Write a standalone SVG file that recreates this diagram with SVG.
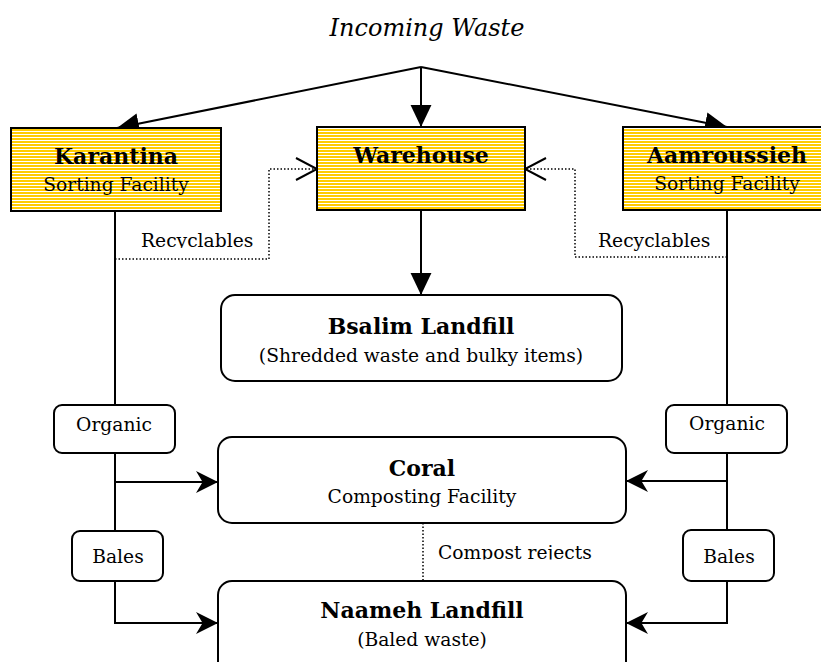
<svg xmlns="http://www.w3.org/2000/svg" width="821" height="662" viewBox="0 0 821 662">
<defs>
  <pattern id="stripes" patternUnits="userSpaceOnUse" x="0" y="0" width="10" height="3">
    <rect width="10" height="3" fill="#FFCC00"/>
    <rect y="2" width="10" height="1" fill="#FFFFFF"/>
  </pattern>
  <marker id="tri" markerUnits="userSpaceOnUse" markerWidth="22" markerHeight="22" viewBox="0 0 20 20" refX="20" refY="10" orient="auto">
    <path d="M0,0.5 L20,10 L0,19.5 z" fill="#000"/>
  </marker>
  <marker id="stealth" markerUnits="userSpaceOnUse" markerWidth="22" markerHeight="22" viewBox="0 0 20 20" refX="20" refY="10" orient="auto">
    <path d="M0,0 L20,10 L0,20 L6,10 z" fill="#000"/>
  </marker>
  <clipPath id="clipRecL"><rect x="120" y="220" width="150" height="28"/></clipPath>
  <clipPath id="clipRej"><rect x="430" y="530" width="200" height="29.5"/></clipPath>
</defs>
<style>
  text { font-family: "DejaVu Serif", "Liberation Serif", serif; fill: #000; }
  .title { font-size: 24px; font-style: italic; }
  .head { font-size: 22px; font-weight: bold; }
  .sub { font-size: 18.7px; }
  .lbl { font-size: 18.7px; }
  .ybox { fill: url(#stripes); stroke: #000; stroke-width: 2; }
  .rbox { fill: #fff; stroke: #000; stroke-width: 2; }
  .line { fill: none; stroke: #000; stroke-width: 2; }
  .dot { fill: none; stroke: #000; stroke-width: 1.5; stroke-dasharray: 1.5 2; }
</style>

<g id="incoming">
  <text class="title" x="427" y="36" text-anchor="middle">Incoming Waste</text>
</g>

<g id="connectors">
  <line class="line" x1="421" y1="67" x2="117" y2="128" marker-end="url(#tri)"/>
  <line class="line" x1="421" y1="67" x2="421" y2="127" marker-end="url(#tri)"/>
  <line class="line" x1="421" y1="67" x2="727" y2="127" marker-end="url(#tri)"/>
  <line class="line" x1="421" y1="210" x2="421" y2="295" marker-end="url(#tri)"/>
  <line class="line" x1="115" y1="211" x2="115" y2="405"/>
  <line class="line" x1="115" y1="453" x2="115" y2="531"/>
  <path class="line" d="M115,482 L218,482" marker-end="url(#stealth)"/>
  <path class="line" d="M115,581 L115,623 L218,623" marker-end="url(#stealth)"/>
  <line class="line" x1="727" y1="210" x2="727" y2="405"/>
  <line class="line" x1="727" y1="453" x2="727" y2="530"/>
  <path class="line" d="M727,481 L626,481" marker-end="url(#stealth)"/>
  <path class="line" d="M727,581 L727,623 L626,623" marker-end="url(#stealth)"/>
  <path class="dot" d="M115,259 L269,259 L269,169 L316,169"/>
  <path class="line" d="M296,158 L317,169 L296,180"/>
  <path class="dot" d="M727,257 L575,257 L575,169 L526,169"/>
  <path class="line" d="M546,158 L525,169 L546,180"/>
  <line class="dot" x1="423" y1="523" x2="423" y2="581"/>
  <text class="lbl" x="141" y="247" clip-path="url(#clipRecL)">Recyclables</text>
  <text class="lbl" x="598" y="247">Recyclables</text>
  <text class="lbl" x="438" y="559" clip-path="url(#clipRej)">Compost rejects</text>
</g>

<g id="karantina">
  <rect class="ybox" x="11" y="128" width="210" height="83"/>
  <text class="head" x="116" y="164" text-anchor="middle">Karantina</text>
  <text class="sub" x="116" y="191" text-anchor="middle">Sorting Facility</text>
</g>
<g id="warehouse">
  <rect class="ybox" x="317" y="127" width="208" height="83"/>
  <text class="head" x="421" y="163" text-anchor="middle">Warehouse</text>
</g>
<g id="aamroussieh">
  <rect class="ybox" x="623" y="127" width="210" height="83"/>
  <text class="head" x="727" y="163" text-anchor="middle">Aamroussieh</text>
  <text class="sub" x="727" y="190" text-anchor="middle">Sorting Facility</text>
</g>
<g id="bsalim">
  <rect class="rbox" x="221" y="295" width="401" height="86" rx="14"/>
  <text class="head" x="421" y="334" text-anchor="middle">Bsalim Landfill</text>
  <text class="sub" x="421" y="362" text-anchor="middle">(Shredded waste and bulky items)</text>
</g>
<g id="coral">
  <rect class="rbox" x="218" y="437" width="408" height="86" rx="14"/>
  <text class="head" x="422" y="476" text-anchor="middle">Coral</text>
  <text class="sub" x="422" y="503" text-anchor="middle">Composting Facility</text>
</g>
<g id="naameh">
  <rect class="rbox" x="218" y="581" width="408" height="95" rx="14"/>
  <text class="head" x="422" y="618" text-anchor="middle">Naameh Landfill</text>
  <text class="sub" x="422" y="646" text-anchor="middle">(Baled waste)</text>
</g>
<g id="organic-left">
  <rect class="rbox" x="54" y="405" width="121" height="48" rx="8"/>
  <text class="lbl" x="114" y="431" text-anchor="middle">Organic</text>
</g>
<g id="organic-right">
  <rect class="rbox" x="666" y="405" width="121" height="48" rx="8"/>
  <text class="lbl" x="727" y="430" text-anchor="middle">Organic</text>
</g>
<g id="bales-left">
  <rect class="rbox" x="72" y="531" width="91" height="50" rx="8"/>
  <text class="lbl" x="118" y="563" text-anchor="middle">Bales</text>
</g>
<g id="bales-right">
  <rect class="rbox" x="683" y="530" width="91" height="51" rx="8"/>
  <text class="lbl" x="729" y="563" text-anchor="middle">Bales</text>
</g>
</svg>
